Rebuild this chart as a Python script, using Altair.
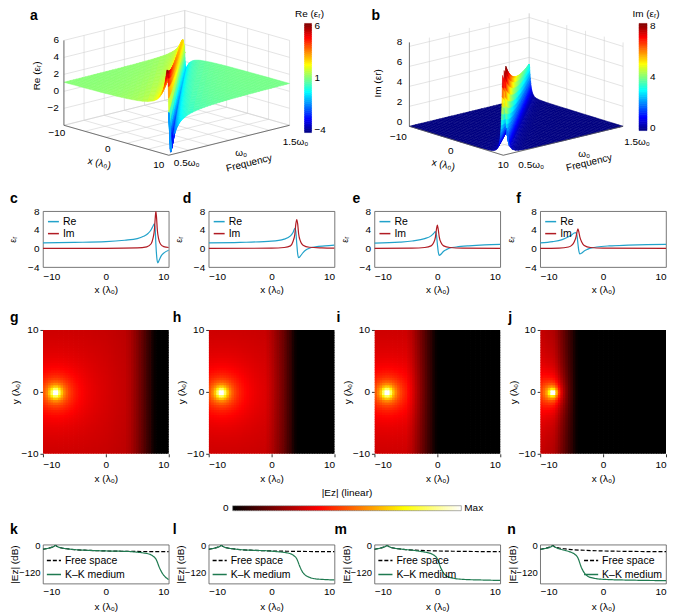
import numpy as np
import pandas as pd
import altair as alt

alt.data_transformers.disable_max_rows()

FONT = "Liberation Sans"
CYAN = "#22a2ca"
DRED = "#b11c24"
GREEN = "#1f7a50"

# ---------------- values ----------------
# a / b : Lorentz resonance (resonance at x=10 for 0.5w0, x=-10 for 1.5w0)
gamma = 0.03            # linewidth in units of w0
im_peak_times_w = 5.0   # Im peak = 5 / (w/w0)
freq_rows = np.linspace(0.5, 1.5, 41)
s_cols = np.unique(np.round(np.concatenate([
    np.arange(-20, -3, 1.0), np.arange(-3, -1, 0.25), np.arange(-1, 1.0001, 0.05),
    np.arange(1.25, 3, 0.25), np.arange(3, 20.001, 1.0)]), 4))

# c-f : cuts of eps_r at four frequencies
c_re_x = [-10, -5, 0, 3, 5, 6, 6.7, 7.2, 7.5, 7.7, 7.85, 7.95, 8.1, 8.25, 8.45, 8.8, 9.3, 10]
c_re_y = [1.2, 1.3, 1.45, 1.75, 2.1, 2.6, 3.2, 4.0, 4.8, 5.3, 4.0, 1.0, -2.0, -3.1, -2.6, -1.6, -0.9, -0.4]
c_im_x = [-10, 0, 5, 6.5, 7.2, 7.5, 7.72, 7.85, 7.95, 8.05, 8.18, 8.4, 8.7, 9.2, 10]
c_im_y = [0, 0.03, 0.1, 0.35, 1.0, 2.2, 4.0, 6.5, 8.0, 6.8, 4.0, 2.0, 0.9, 0.4, 0.2]

d_re_x = [-10, -5, 0, 2, 3, 3.4, 3.7, 3.85, 4.0, 4.15, 4.3, 4.6, 5, 5.5, 6, 7, 8.5, 10]
d_re_y = [1.2, 1.3, 1.55, 2.0, 2.7, 3.4, 4.3, 3.6, 1.0, -1.2, -2.0, -1.6, -0.9, -0.3, 0.05, 0.35, 0.55, 0.7]
d_im_x = [-10, 0, 2, 3, 3.4, 3.7, 3.85, 4.0, 4.15, 4.3, 4.6, 5, 6, 8, 10]
d_im_y = [0, 0.05, 0.2, 0.55, 1.5, 3.1, 5.2, 6.2, 5.2, 3.1, 1.5, 0.7, 0.25, 0.1, 0.05]

e_re_x = [-10, -6, -4, -2, -1, -0.6, -0.3, -0.15, 0, 0.15, 0.3, 0.6, 1, 1.5, 2, 3, 5, 7.5, 10]
e_re_y = [1.15, 1.35, 1.6, 2.1, 2.7, 3.2, 3.6, 3.0, 1.0, -0.8, -1.5, -1.2, -0.6, -0.2, 0.1, 0.3, 0.55, 0.75, 0.85]
e_im_x = [-10, -4, -2, -1, -0.6, -0.3, -0.15, 0, 0.15, 0.3, 0.6, 1, 2, 4, 10]
e_im_y = [0, 0.05, 0.2, 0.55, 1.2, 2.5, 4.0, 5.0, 4.0, 2.5, 1.2, 0.55, 0.2, 0.05, 0.02]

f_re_x = [-10, -8, -6.5, -5.5, -5, -4.6, -4.3, -4.15, -4, -3.85, -3.7, -3.4, -3, -2.5, -2, -1, 1, 4, 7, 10]
f_re_y = [1.2, 1.45, 1.9, 2.5, 2.9, 3.3, 3.4, 2.8, 1.0, -0.6, -1.2, -1.0, -0.55, -0.2, 0.05, 0.3, 0.55, 0.7, 0.8, 0.85]
f_im_x = [-10, -7, -5.5, -5, -4.6, -4.3, -4.15, -4, -3.85, -3.7, -3.4, -3, -2, 0, 10]
f_im_y = [0, 0.05, 0.3, 0.65, 1.4, 2.5, 3.5, 4.2, 3.5, 2.5, 1.4, 0.65, 0.2, 0.05, 0.02]

# k-n : |Ez| along y=0 in dB
fs_x = [-10, -9.5, -9, -8.5, -8.2, -8, -7.8, -7.5, -7, -6, -5, -3, 0, 3, 6, 10]
fs_y = [-18, -15, -12, -8, -4, 0, -4, -8, -12, -16, -19, -22, -25, -26.5, -27.5, -28]

k_kk_x = [-10, -9.5, -9, -8.5, -8.2, -8, -7.8, -7.5, -7, -6, -5, -3, 0, 3, 4, 5, 6, 7, 7.5, 8, 8.5, 9, 9.5, 10]
k_kk_y = [-18, -15, -12, -8, -4, 0, -4, -8, -12, -16, -19, -22, -25, -26.8, -28, -30.5, -34, -40, -48, -63, -98, -125, -142, -152]
l_kk_x = [-10, -9.5, -9, -8.5, -8.2, -8, -7.8, -7.5, -7, -6, -5, -3, -1, 0, 1, 2, 3, 3.5, 4, 4.5, 5, 6, 7, 8.5, 10]
l_kk_y = [-18, -15, -12, -8, -4, 0, -4, -8, -12, -16, -19, -22, -24, -26, -28.5, -31.5, -37.5, -45, -60, -95, -122, -142, -149, -152, -154]
m_kk_x = [-10, -9.5, -9, -8.5, -8.2, -8, -7.8, -7.5, -7, -6, -5, -4, -3, -2, -1, -0.5, 0, 0.5, 1, 1.5, 2.5, 4, 7, 10]
m_kk_y = [-18, -15, -12, -8, -4, 0, -4, -8, -12, -16, -19, -21.5, -25.5, -30, -37, -44.5, -60, -97, -123, -137, -146, -151, -154, -156]
n_kk_x = [-10, -9.5, -9, -8.5, -8.2, -8, -7.8, -7.5, -7, -6, -5, -4.5, -4, -3.5, -3, -2.5, -1.5, 0, 5, 10]
n_kk_y = [-18.5, -15.5, -12.8, -9, -5.2, -1.3, -5.5, -10, -15.5, -23, -32, -40, -56, -95, -122, -136, -146, -151, -155, -157]

# g-j : source position
src_x, src_y = -8.0, 0.0
grid_n = 50

ROW1_ORIGIN = (41, 8)   # where row 1's plot origin lands in the picture
SHIFT = 40              # keeps all projected coordinates positive
PROJ = dict(type="identity", scale=1, translate=[-SHIFT, -SHIFT])


def to_ll(x, y):
    return (np.asarray(x, float) - ROW1_ORIGIN[0] + SHIFT, np.asarray(y, float) - ROW1_ORIGIN[1] + SHIFT)


# ---------------- helpers ----------------
def lorentz(x, w):
    wr = 1.0 - x / 20.0
    d = wr ** 2 - w ** 2
    den = d ** 2 + (gamma * w) ** 2
    amp = im_peak_times_w * gamma
    return 1 + amp * d / den, amp * gamma * w / den


def make_proj(corner, ex, ew, ez, zmin):
    def P(x, w, z):
        x = np.asarray(x, float); w = np.asarray(w, float); z = np.asarray(z, float)
        px = corner[0] + (x + 10) * ex[0] + (w - 0.5) * ew[0]
        py = corner[1] + (x + 10) * ex[1] + (w - 0.5) * ew[1] - (z - zmin) * ez
        return to_ll(px, py)
    return P


def poly(ring, v):
    ring = [[round(float(a), 2), round(float(b), 2)] for a, b in ring]
    ring.append(ring[0])
    return {"type": "Feature", "geometry": {"type": "Polygon", "coordinates": [ring]},
            "properties": {"v": round(float(v), 3)}}


def surface(P, which, zcap):
    W, S = np.meshgrid(freq_rows, s_cols, indexing="ij")
    X = np.clip(20 - 20 * W + S, -10, 10)
    re, im = lorentz(X, W)
    Z = re if which == "re" else im
    U, V = P(X, W, Z)
    feats = []
    nw, ns = W.shape
    for i in range(nw - 1):
        for j in range(ns - 1):
            idx = [(i, j), (i, j + 1), (i + 1, j + 1), (i + 1, j)]
            xs = [X[k] for k in idx]
            if max(xs) - min(xs) < 1e-9:
                continue
            zs = [Z[k] for k in idx]
            if max(zs) > zcap:
                continue
            depth = (np.mean(xs) + 10) / 20 + (1.5 - 0.5 * (W[i, j] + W[i + 1, j]))
            feats.append((depth, poly([(U[k], V[k]) for k in idx], np.mean(zs))))
    feats.sort(key=lambda t: t[0])
    return [f for _, f in feats]


def seg(P, a, b):
    u, v = P([a[0], b[0]], [a[1], b[1]], [a[2], b[2]])
    return {"type": "Feature", "geometry": {"type": "LineString",
            "coordinates": [[round(float(u[0]), 2), round(float(v[0]), 2)], [round(float(u[1]), 2), round(float(v[1]), 2)]]},
            "properties": {}}


def box(P, xg, wg, zg, zmin, zmax):
    back, floor = [], []
    for w in wg:
        back.append(seg(P, (-10, w, zmin), (-10, w, zmax)))
    for z in zg:
        back.append(seg(P, (-10, 0.5, z), (-10, 1.5, z)))
        back.append(seg(P, (-10, 1.5, z), (10, 1.5, z)))
    for x in xg:
        back.append(seg(P, (x, 1.5, zmin), (x, 1.5, zmax)))
        floor.append(seg(P, (x, 0.5, zmin), (x, 1.5, zmin)))
    for w in wg:
        floor.append(seg(P, (-10, w, zmin), (10, w, zmin)))
    axes = [seg(P, (-10, 0.5, zmin), (10, 0.5, zmin)), seg(P, (10, 0.5, zmin), (10, 1.5, zmin)),
            seg(P, (-10, 0.5, zmin), (-10, 0.5, zmax))]
    return back + floor, axes


def letter(t, dx, offset):
    return alt.TitleParams(t, anchor="start", frame="group", dx=dx, offset=offset, fontSize=14,
                           fontWeight="bold", font=FONT, baseline="alphabetic")


JET = ["#00007f", "#0000ff", "#00ffff", "#ffff00", "#ff0000", "#7f0000"]
JET_POS = [0, 0.125, 0.375, 0.625, 0.875, 1.0]


def lab_df(P, pts, texts, off):
    u, v = P([p[0] for p in pts], [p[1] for p in pts], [p[2] for p in pts])
    return pd.DataFrame({"u": u + off[0], "v": v + off[1], "t": texts})


def lab_line(P, texts, start_pt, start_off, end_pt, end_off, frac):
    u0, v0 = P(start_pt[0], start_pt[1], start_pt[2])
    u1, v1 = P(end_pt[0], end_pt[1], end_pt[2])
    a = np.array([u0 + start_off[0], v0 + start_off[1]])
    b = np.array([u1 + end_off[0], v1 + end_off[1]])
    fr = np.asarray(frac)
    return pd.DataFrame({"u": a[0] + fr * (b[0] - a[0]), "v": a[1] + fr * (b[1] - a[1]), "t": texts})


def colorbar(zlo, zhi, bar_box, ticks, tick_txt, title, title_xy):
    # bar_box: left, top, right, bottom in picture pixels
    x0, y0, x1, y1 = bar_box
    n = 60
    feats = []
    for k in range(n):
        ta, tb = y1 - (y1 - y0) * k / n, y1 - (y1 - y0) * (k + 1) / n
        val = zlo + (zhi - zlo) * (k + 0.5) / n
        corners = [to_ll(x0, ta + 0.3), to_ll(x1, ta + 0.3), to_ll(x1, tb), to_ll(x0, tb)]
        feats.append(poly(corners, val))
    frac = [(t - zlo) / (zhi - zlo) for t in ticks]
    ty = [y1 - (y1 - y0) * f + 3 * (f > 0.9) - 2 * (f < 0.1) for f in frac]
    tu, tv = to_ll([x1 + 3] * len(ticks), ty)
    tick_df = pd.DataFrame({"u": tu, "v": tv, "t": tick_txt})
    hu, hv = to_ll([title_xy[0]], [title_xy[1]])
    title_df = pd.DataFrame({"u": hu, "v": hv, "t": [title]})
    return feats, tick_df, title_df


def panel3d_layers(which, P, zlo, zhi, zmin, zmax, xg, wg, zg, zcap, labels, cbar):
    feats = surface(P, which, zcap)
    cb_feats, cb_ticks, cb_title = cbar
    grid, axes = box(P, xg, wg, zg, zmin, zmax)
    dom = [zlo + p * (zhi - zlo) for p in JET_POS]
    g = alt.Chart(alt.Data(values=grid)).mark_geoshape(filled=False, stroke="#d2d2d2", strokeWidth=0.6,
                                                       clip=False).project(**PROJ)
    s = alt.Chart(alt.Data(values=feats + cb_feats)).mark_geoshape(strokeWidth=0.5, opacity=1, clip=False).encode(
        color=alt.Color("properties.v:Q", scale=alt.Scale(domain=dom, range=JET, clamp=True, interpolate="rgb"), legend=None),
        stroke=alt.Stroke("properties.v:Q", scale=alt.Scale(domain=dom, range=JET, clamp=True, interpolate="rgb"), legend=None),
    ).project(**PROJ)
    ax = alt.Chart(alt.Data(values=axes)).mark_geoshape(filled=False, stroke="#555", strokeWidth=0.8,
                                                        clip=False).project(**PROJ)
    layers = [g, s, ax]
    labels = labels + [(cb_ticks, dict(align="left", baseline="middle")),
                       (cb_title, dict(align="center", baseline="middle"))]
    for df, kw in labels:
        layers.append(alt.Chart(df).mark_text(font=FONT, fontSize=10, color="black", clip=False, **kw).encode(
            longitude="u:Q", latitude="v:Q", text="t:N").project(**PROJ))
    return layers


# ---------------- panel a ----------------
Pa = make_proj((62, 125), (5.25, 1.5), (121, -30), 8.5, -4)
a_labels = [
    (lab_df(Pa, [(-10, 0.5, z) for z in [-2, 0, 2, 4, 6]], ["−2", "0", "2", "4", "6"], (-5, 0)), dict(align="right", baseline="middle")),
    (lab_line(Pa, ["−10", "0", "10"], (-10, 0.5, -4), (-7, 8), (10, 0.5, -4), (-10, 10), [0, 0.5, 1]), dict(align="center", baseline="middle")),
    (lab_line(Pa, ["0.5ω₀", "ω₀", "1.5ω₀"], (10, 0.5, -4), (18, 8), (10, 1.5, -4), (6, 17), [0, 0.5, 1]), dict(align="center", baseline="middle")),
    (lab_df(Pa, [(-10, 0.5, 1)], ["Re (εᵣ)"], (-27, -7)), dict(align="center", baseline="middle", angle=270)),
    (lab_df(Pa, [(0, 0.5, -4)], ["x (λ₀)"], (-17, 23)), dict(align="center", baseline="middle", angle=12)),
    (lab_df(Pa, [(10, 1.0, -4)], ["Frequency"], (20, 23)), dict(align="center", baseline="middle", angle=346)),
]
cbar_a = colorbar(-4, 6, (303, 23, 310, 132), [-4, 1, 6], ["−4", "1", "6"], "Re (εᵣ)", (308, 14))
layers_a = panel3d_layers("re", Pa, -4, 6, -4, 6, [-10, -6, -2, 2, 6, 10], np.linspace(0.5, 1.5, 7),
                          [-4, -2, 0, 2, 4, 6], 99, a_labels, cbar_a)

# ---------------- panel b ----------------
Pb = make_proj((408, 126), (4.7, 1.45), (120, -29), 10, 0)
b_labels = [
    (lab_df(Pb, [(-10, 0.5, z) for z in [0, 2, 4, 6, 8]], ["0", "2", "4", "6", "8"], (-7, -4)), dict(align="right", baseline="middle")),
    (lab_line(Pb, ["−10", "0", "10"], (-10, 0.5, 0), (-11, 11), (10, 0.5, 0), (0, 10), [0, 0.5, 1]), dict(align="center", baseline="middle")),
    (lab_line(Pb, ["0.5ω₀", "ω₀", "1.5ω₀"], (10, 0.5, 0), (28, 10), (10, 1.5, 0), (14, 16), [0, 0.5, 1]), dict(align="center", baseline="middle")),
    (lab_df(Pb, [(-10, 0.5, 4)], ["Im (εr)"], (-31, -3)), dict(align="center", baseline="middle", angle=270)),
    (lab_df(Pb, [(0, 0.5, 0)], ["x (λ₀)"], (-13, 24)), dict(align="center", baseline="middle", angle=12)),
    (lab_df(Pb, [(10, 1.0, 0)], ["Frequency"], (26, 22)), dict(align="center", baseline="middle", angle=346)),
]
cbar_b = colorbar(0, 8, (638, 23, 646, 130), [0, 4, 8], ["0", "4", "8"], "Im (εᵣ)", (645, 14))
layers_b = panel3d_layers("im", Pb, 0, 8, 0, 8.4, [-10, -6, -2, 2, 6, 10], np.linspace(0.5, 1.5, 7),
                          [0, 2, 4, 6, 8], 8.4, b_labels, cbar_b)

lu, lv = to_ll([28, 370], [20, 20])
row1_letters = pd.DataFrame({"u": lu, "v": lv, "t": ["a", "b"]})
letters_layer = alt.Chart(row1_letters).mark_text(font=FONT, fontSize=14, fontWeight="bold", align="left",
                                                  baseline="alphabetic", color="black", clip=False).encode(
    longitude="u:Q", latitude="v:Q", text="t:N").project(**PROJ)

row1 = alt.layer(*layers_a, *layers_b, letters_layer).resolve_scale(
    color="independent", stroke="independent").properties(
    width=624, height=166, view=alt.ViewBackground(stroke=None))


# ---------------- c-f ----------------
def eps_panel(let, dx, rx, ry, ix, iy):
    df = pd.concat([pd.DataFrame({"x": rx, "val": ry, "s": "Re"}),
                    pd.DataFrame({"x": ix, "val": iy, "s": "Im"})])
    return alt.Chart(df).mark_line(interpolate="monotone", strokeWidth=1.2, clip=True).encode(
        x=alt.X("x:Q", scale=alt.Scale(domain=[-10, 10], nice=False),
                axis=alt.Axis(values=[-10, 0, 10], title="x (λ₀)", labelPadding=4, titlePadding=3)),
        y=alt.Y("val:Q", scale=alt.Scale(domain=[-4, 8], nice=False),
                axis=alt.Axis(values=[-4, 0, 4, 8], title="εᵣ", titleFontSize=9, labelPadding=4, titleX=-25)),
        color=alt.Color("s:N", scale=alt.Scale(domain=["Re", "Im"], range=[CYAN, DRED]),
                        legend=alt.Legend(orient="top-left", title=None, symbolType="stroke", symbolStrokeWidth=1.5,
                                          symbolSize=120, labelFontSize=10.5, rowPadding=-1, padding=0, offset=4,
                                          labelOffset=3)),
        order=alt.Order("s:N", sort="descending"),
    ).properties(width=126, height=56, title=letter(let, dx, -11))


chart_c = eps_panel("c", -33, c_re_x, c_re_y, c_im_x, c_im_y)
chart_d = eps_panel("d", -26, d_re_x, d_re_y, d_im_x, d_im_y)
chart_e = eps_panel("e", -22, e_re_x, e_re_y, e_im_x, e_im_y)
chart_f = eps_panel("f", -24, f_re_x, f_re_y, f_im_x, f_im_y)

# ---------------- g-j ----------------
HOT_DOM = [0, 0.375, 0.75, 1.0]
HOT = ["#000000", "#ff0000", "#ffff00", "#ffffff"]
edges = np.linspace(-10, 10, grid_n + 1)
cent = (edges[:-1] + edges[1:]) / 2
overlap = 0.12


def field_panel(let, dx, kkx, kky):
    XC, YC = np.meshgrid(cent, cent)
    r = np.hypot(XC - src_x, YC - src_y)
    near = 0.25 + 0.55 / (r + 0.3)
    trans = 10 ** ((np.interp(XC, kkx, kky) - np.interp(XC, fs_x, fs_y)) / 20)
    val = near * trans
    i, j = np.meshgrid(np.arange(grid_n), np.arange(grid_n))
    df = pd.DataFrame({"x0": edges[:-1][i].ravel(), "x1": edges[1:][i].ravel() + overlap,
                       "y0": edges[:-1][j].ravel() - overlap, "y1": edges[1:][j].ravel(),
                       "val": np.round(val.ravel(), 4)})
    sc = alt.Scale(domain=HOT_DOM, range=HOT, clamp=True, interpolate="rgb")
    return alt.Chart(df).mark_rect(clip=True, opacity=1, fillOpacity=1, strokeWidth=0).encode(
        x=alt.X("x0:Q", scale=alt.Scale(domain=[-10, 10], nice=False),
                axis=alt.Axis(values=[-10, 0, 10], title="x (λ₀)", ticks=True, tickSize=3, labelPadding=3, titlePadding=4)),
        x2="x1:Q",
        y=alt.Y("y0:Q", scale=alt.Scale(domain=[-10, 10], nice=False),
                axis=alt.Axis(values=[-10, 0, 10], title="y (λ₀)", ticks=True, tickSize=3, labelPadding=2, titleX=-22)),
        y2="y1:Q",
        color=alt.Color("val:Q", scale=sc, legend=None),
    ).properties(width=126, height=124, title=letter(let, dx, -11), view=alt.ViewBackground(stroke=None))


chart_g = field_panel("g", -33, k_kk_x, k_kk_y)
chart_h = field_panel("h", -36, l_kk_x, l_kk_y)
chart_i = field_panel("i", -38, m_kk_x, m_kk_y)
chart_j = field_panel("j", -32, n_kk_x, n_kk_y)

# ---------------- colorbar (chart starts at the plot column, bar from picture x=231 to 460) ----------------
cb_edges = np.linspace(0, 1, 101)
cb_df = pd.DataFrame({"c0": cb_edges[:-1], "c1": cb_edges[1:] + 0.005, "cv": (cb_edges[:-1] + cb_edges[1:]) / 2,
                      "b0": 0.0, "b1": 1.0})
cb_x = alt.Scale(domain=[-190 / 229, 1], nice=False)
cb_y = alt.Scale(domain=[0, 1], nice=False)
cb_sc = alt.Scale(domain=HOT_DOM, range=HOT, clamp=True, interpolate="rgb")
cb_bar = alt.Chart(cb_df).mark_rect(clip=True, opacity=1, strokeWidth=0).encode(
    x=alt.X("c0:Q", scale=cb_x, axis=None), x2="c1:Q",
    y=alt.Y("b0:Q", scale=cb_y, axis=None), y2="b1:Q",
    color=alt.Color("cv:Q", scale=cb_sc, legend=None))
cb_frame = alt.Chart(pd.DataFrame({"a": [0.0], "b": [1.0]})).mark_rect(fill=None, stroke="#777", strokeWidth=0.6).encode(
    x=alt.X("a:Q", scale=cb_x, axis=None), x2="b:Q", y=alt.Y("a:Q", scale=cb_y, axis=None), y2="b:Q")
cb_lab = pd.DataFrame({"p": [0.0, 1.0, 0.5], "q": [0.5, 0.5, 1.0], "t": ["0", "Max", "|Ez| (linear)"]})
cb_t0 = alt.Chart(cb_lab.iloc[[0]]).mark_text(align="right", baseline="middle", dx=-4, fontSize=10, font=FONT).encode(
    x=alt.X("p:Q", scale=cb_x, axis=None), y=alt.Y("q:Q", scale=cb_y, axis=None), text="t:N")
cb_t1 = alt.Chart(cb_lab.iloc[[1]]).mark_text(align="left", baseline="middle", dx=3, fontSize=10, font=FONT).encode(
    x=alt.X("p:Q", scale=cb_x, axis=None), y=alt.Y("q:Q", scale=cb_y, axis=None), text="t:N")
cb_t2 = alt.Chart(cb_lab.iloc[[2]]).mark_text(align="center", baseline="middle", dy=-13, fontSize=10, font=FONT).encode(
    x=alt.X("p:Q", scale=cb_x, axis=None), y=alt.Y("q:Q", scale=cb_y, axis=None), text="t:N")
chart_cb = alt.layer(cb_bar, cb_frame, cb_t0, cb_t1, cb_t2).properties(
    width=419, height=5, view=alt.ViewBackground(stroke=None))


# ---------------- k-n ----------------
def db_panel(let, dx, kkx, kky, legend_orient):
    df = pd.concat([pd.DataFrame({"x": fs_x, "val": fs_y, "s": "Free space"}),
                    pd.DataFrame({"x": kkx, "val": kky, "s": "K–K medium"})])
    dom = ["Free space", "K–K medium"]
    leg = alt.Legend(orient=legend_orient, title=None, symbolType="stroke", symbolStrokeWidth=1.5,
                     symbolSize=200, labelFontSize=10.5, rowPadding=-1, padding=0, offset=3, labelOffset=3)
    return alt.Chart(df).mark_line(interpolate="monotone", strokeWidth=1.2, clip=True).encode(
        x=alt.X("x:Q", scale=alt.Scale(domain=[-10, 10], nice=False),
                axis=alt.Axis(values=[-10, 0, 10], title="x (λ₀)", labelPadding=3, titlePadding=5)),
        y=alt.Y("val:Q", scale=alt.Scale(domain=[-170, 3], nice=False),
                axis=alt.Axis(values=[-120, 0], title="|Ez| (dB)", labelPadding=3, labelFontSize=9.5, titleX=-23)),
        color=alt.Color("s:N", scale=alt.Scale(domain=dom, range=["#000000", GREEN]), legend=leg),
        strokeDash=alt.StrokeDash("s:N", scale=alt.Scale(domain=dom, range=[[4, 2], [1, 0]]), legend=leg),
    ).properties(width=126, height=39, title=letter(let, dx, -8))


chart_k = db_panel("k", -33, k_kk_x, k_kk_y, "bottom-left")
chart_l = db_panel("l", -36, l_kk_x, l_kk_y, "bottom-left")
chart_m = db_panel("m", -40, m_kk_x, m_kk_y, "bottom-left")
chart_n = db_panel("n", -33, n_kk_x, n_kk_y, "bottom-right")


# ---------------- layout ----------------
def hrow(items, spacing):
    return alt.hconcat(*items, spacing=spacing, bounds="flush").resolve_scale(
        color="independent", stroke="independent", strokeDash="independent").resolve_legend(
        color="independent", stroke="independent", strokeDash="independent")


def vstack(a, b, spacing):
    return alt.vconcat(a, b, spacing=spacing).resolve_scale(
        color="independent", stroke="independent", strokeDash="independent").resolve_legend(
        color="independent", stroke="independent", strokeDash="independent")


row2 = hrow([chart_c, chart_d, chart_e, chart_f], 40)
row3 = hrow([chart_g, chart_h, chart_i, chart_j], 40)
row4 = hrow([chart_k, chart_l, chart_m, chart_n], 40)

chart = vstack(row1, vstack(row2, vstack(row3, vstack(chart_cb, row4, 9), 4), 16), 17)

chart = chart.properties(padding=0).configure(font=FONT).configure_axis(
    labelFont=FONT, titleFont=FONT, labelFontSize=10, titleFontSize=10, titleFontWeight="normal",
    grid=False, ticks=False, domain=False, labelColor="#000", titleColor="#000", tickColor="#333"
).configure_view(stroke="#555", strokeWidth=0.8).configure_legend(
    labelFont=FONT, titleFont=FONT, labelFontSize=10, titleFontSize=10, titleFontWeight="normal", labelColor="#000"
).configure_title(font=FONT)

chart.save("out.html", embed_options={"renderer": "svg", "actions": False})
